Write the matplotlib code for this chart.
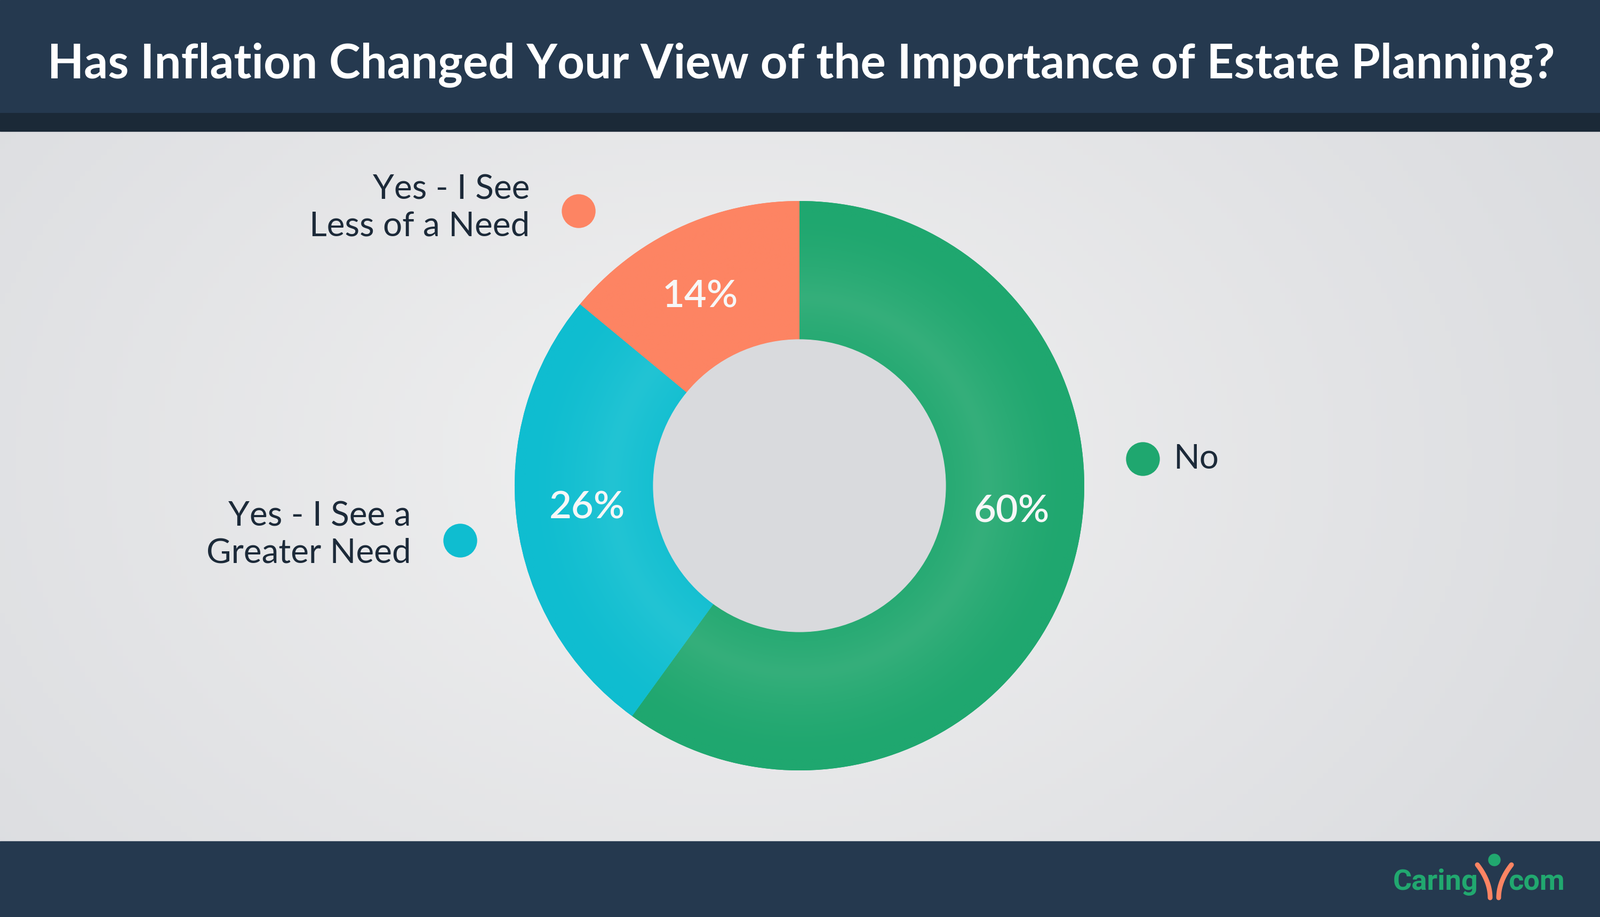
import numpy as np
import matplotlib
matplotlib.use("Agg")
import matplotlib.pyplot as plt
from matplotlib.patches import Rectangle, Circle
from matplotlib.colors import to_rgb

# ---- data ----
title = "Has Inflation Changed Your View of the Importance of Estate Planning?"
categories = ["No", "Yes - I See a\nGreater Need", "Yes - I See\nLess of a Need"]
values = [60, 26, 14]
pct_labels = ["60%", "26%", "14%"]
colors = ["#1fa76f", "#0fbdd0", "#fd8463"]
highlights = ["#35af7b", "#22c4d4", "#fd8463"]

W, H = 3000, 1720
fig = plt.figure(figsize=(W / 100, H / 100), dpi=100)

# background axes in pixel coordinates
bg = fig.add_axes([0, 0, 1, 1])
bg.set_xlim(0, W)
bg.set_ylim(H, 0)
bg.axis("off")

# gradient background
xx = np.linspace(-1, 1, 300)
yy = np.linspace(-1, 1, 172)
X, Y = np.meshgrid(xx, yy)
R = np.sqrt(((X + 0.1) * 1.0) ** 2 + (Y * 0.8) ** 2)
c_in = np.array([0.945, 0.945, 0.945])
c_out = np.array([0.86, 0.865, 0.878])
t = np.clip(R / 1.2, 0, 1)[..., None]
img = c_in * (1 - t) + c_out * t
bg.imshow(img, extent=[0, W, H, 0], aspect="auto", zorder=0)

# header and footer bands
bg.add_patch(Rectangle((0, 0), W, 212, color="#25394f", zorder=1))
bg.add_patch(Rectangle((0, 212), W, 34, color="#1b2937", zorder=1))
bg.add_patch(Rectangle((0, 1578), W, H - 1578, color="#25394f", zorder=1))

bg.text(1502, 122, title, color="white", fontsize=64, fontweight="bold",
        family="Lato", ha="center", va="center", zorder=2)

# legend entries (dots + labels)
dark = "#1c2a39"
leg = [
    # (label index, dot x, dot y, text x, text y, ha)
    (2, 1085, 396, 993, 390, "right"),
    (1, 863, 1014, 771, 1003, "right"),
    (0, 2143, 861, 2200, 861, "left"),
]
for idx, dx, dy, tx, ty, ha in leg:
    bg.add_patch(Circle((dx, dy), 31, color=colors[idx], zorder=2))
    bg.text(tx, ty, categories[idx], color=dark, fontsize=46, family="Lato",
            ha=ha, va="center", linespacing=1.25, zorder=2)

# logo
bg.text(2612, 1669, "Caring", color="#21a86f", fontsize=39, fontweight="bold",
        family="Roboto", ha="left", va="baseline", zorder=2)
bg.text(2828, 1669, "com", color="#21a86f", fontsize=39, fontweight="bold",
        family="Roboto", ha="left", va="baseline", zorder=2)
th = np.linspace(0, 1, 40)
off = 8 + 24 * (1 - th) ** 2
bg.plot(2802 - off, 1622 + 62 * th, color="#fd8463", lw=6.5,
        solid_capstyle="round", zorder=2)
bg.plot(2802 + off, 1622 + 62 * th, color="#fd8463", lw=6.5,
        solid_capstyle="round", zorder=2)
bg.add_patch(Circle((2802, 1613), 11, color="#21a86f", zorder=2))

# donut
cx, cy, r = 1499, 911, 534
ax = fig.add_axes([(cx - r) / W, (H - cy - r) / H, 2 * r / W, 2 * r / H])
ax.set_facecolor("none")
wedges, _ = ax.pie(values, colors=colors, startangle=90, counterclock=False,
                   radius=1, wedgeprops=dict(width=0.487, linewidth=0))

# subtle radial shading inside wedges
gx = np.linspace(-1, 1, 500)
GX, GY = np.meshgrid(gx, gx)
GR = np.sqrt(GX ** 2 + GY ** 2)
shade = np.clip(1 - np.abs(GR - 0.66) / 0.3, 0, 1) ** 1.5
for w, base, hi in zip(wedges, colors, highlights):
    b = np.array(to_rgb(base))
    h = np.array(to_rgb(hi))
    im = b * (1 - shade[..., None]) + h * shade[..., None]
    imh = ax.imshow(im, extent=[-1, 1, -1, 1], origin="lower", zorder=2,
                    aspect="auto")
    imh.set_clip_path(w)

ax.add_patch(Circle((0, 0), 0.513, color="#d9dadd", zorder=3))
label_shift = [11, -1.3, 2.5]  # degrees shift from wedge mid for label
for w, lab, sh in zip(wedges, pct_labels, label_shift):
    ang = np.deg2rad((w.theta1 + w.theta2) / 2 + sh)
    ax.text(0.75 * np.cos(ang), 0.75 * np.sin(ang), lab, color="#f7f7f7",
            fontsize=52, family="Lato", fontweight="semibold",
            ha="center", va="center", zorder=4)
ax.set_xlim(-1, 1)
ax.set_ylim(-1, 1)
ax.set_aspect("auto")
ax.axis("off")

fig.savefig("out.png", dpi=100)
